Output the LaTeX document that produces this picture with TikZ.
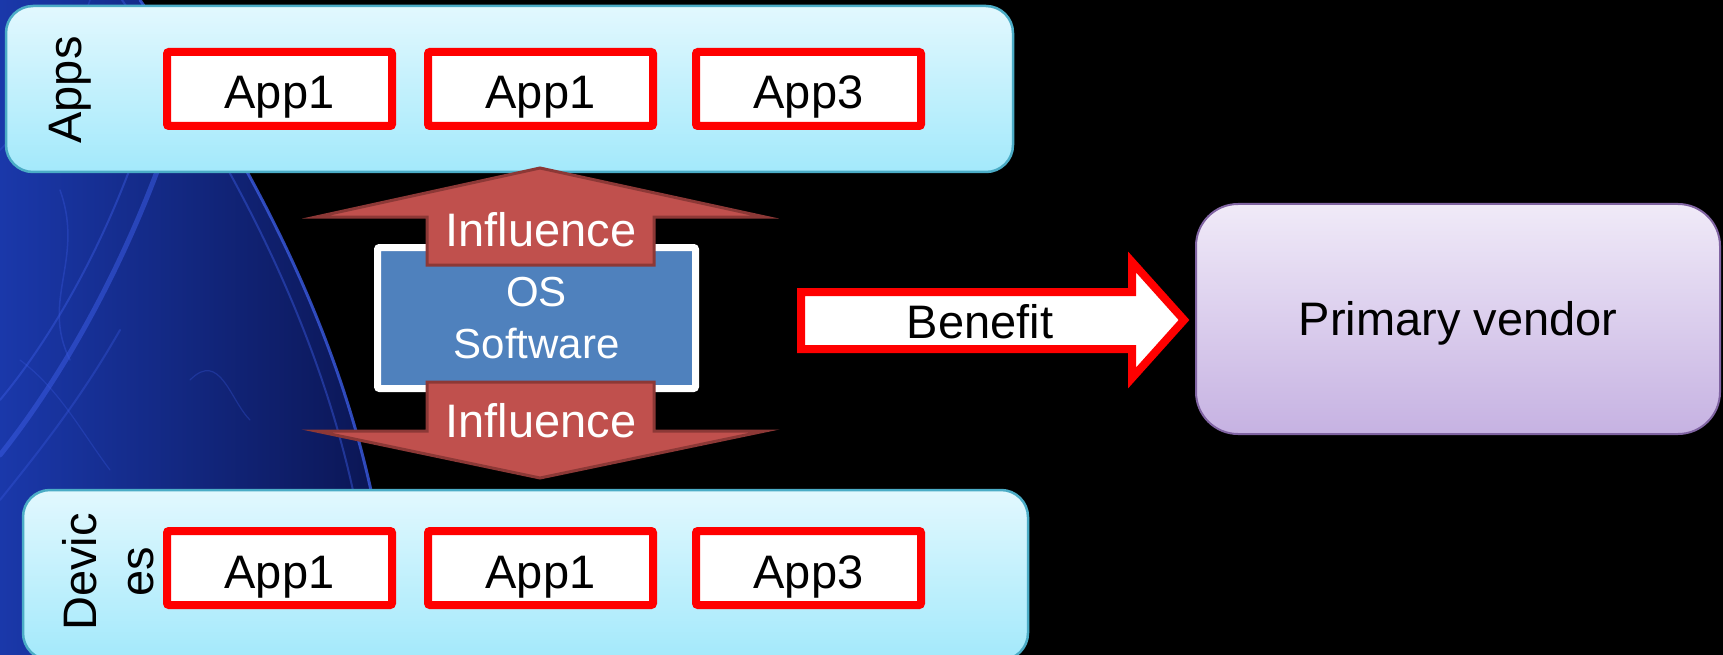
\documentclass[tikz,border=0pt]{standalone}
\usepackage{fontspec}
\setmainfont{Liberation Sans}
\definecolor{layertop}{HTML}{E2F8FE}
\definecolor{layerbot}{HTML}{A3E9FB}
\definecolor{layerline}{HTML}{4BACC6}
\definecolor{vendortop}{HTML}{F0EAF8}
\definecolor{vendorbot}{HTML}{C6B2E2}
\definecolor{vendorline}{HTML}{8064A2}
\definecolor{osfill}{HTML}{4F81BD}
\definecolor{inflfill}{HTML}{C0504D}
\definecolor{inflline}{HTML}{8C3836}
\definecolor{navy}{HTML}{0A1450}
\definecolor{navylight}{HTML}{1A38AA}
\definecolor{streak}{HTML}{3A5AE0}
\newcommand\figfont{\fontsize{47}{57}\selectfont}
\newcommand\osfont{\fontsize{42}{52}\selectfont}
\begin{document}
\begin{tikzpicture}[x=1pt,y=-1pt,
  layer/.style={draw=layerline, line width=2.5pt, rounded corners=27pt,
    top color=layertop, bottom color=layerbot, inner sep=0pt},
  appbox/.style={draw=red, line width=8pt, fill=white, rounded corners=2pt,
    minimum width=225pt, minimum height=74pt, inner sep=0pt,
    text height=40pt, text depth=0pt, font=\figfont},
  sidelabel/.style={rotate=90, align=center, font=\figfont, inner sep=0pt},
  influence/.style={draw=inflline, line width=3pt, fill=inflfill, line join=miter},
  infltext/.style={font=\figfont, text=white, anchor=base, inner sep=0pt},
  streakline/.style={draw=streak, line cap=round}
]
\useasboundingbox (0,0) rectangle (1723,655);
\clip (0,0) rectangle (1723,655);

% night sky backdrop with blue smoke on the left
\fill[black] (0,0) rectangle (1723,655);
\shade[left color=navylight, right color=navy]
  (0,0) -- (140,0) .. controls (230,130) and (330,300) .. (372,495)
  -- (395,655) -- (0,655) -- cycle;
\draw[streakline, line width=3pt, opacity=.8]
  (140,0) .. controls (230,130) and (330,300) .. (372,495);
\draw[streakline, line width=2pt, opacity=.45]
  (122,0) .. controls (212,130) and (312,300) .. (354,495);
\draw[streakline, line width=5pt, opacity=.55]
  (175,120) .. controls (130,260) and (60,380) .. (0,455);
\draw[streakline, line width=2pt, opacity=.45]
  (150,110) .. controls (110,240) and (50,340) .. (0,400);
\draw[streakline, line width=2pt, opacity=.35]
  (120,330) .. controls (80,400) and (40,450) .. (0,500);
\draw[streakline, line width=1.5pt, opacity=.35]
  (60,190) .. controls (85,260) and (40,300) .. (70,360);
\draw[streakline, line width=1.2pt, opacity=.3]
  (190,380) .. controls (220,350) and (230,400) .. (250,420);
\draw[streakline, line width=1.2pt, opacity=.3]
  (20,360) .. controls (60,390) and (80,430) .. (110,470);
\draw[streakline, line width=1.5pt, opacity=.35]
  (90,0) .. controls (70,60) and (30,120) .. (0,150);

% the two layers
\node[layer, minimum width=1007pt, minimum height=166pt] (apps) at (509.5,89) {};
\node[layer, minimum width=1005pt, minimum height=170pt] (devices) at (525.5,575) {};
\node[sidelabel] (appslbl) at (70,90) {Apps};
\node[sidelabel] (devlbl) at (108,572) {Devic\\es};

% application boxes
\node[appbox] (a1) at (279.5,89) {App1};
\node[appbox] (a2) at (540.5,89) {App1};
\node[appbox] (a3) at (808.5,89) {App3};
\node[appbox] (d1) at (279.5,568) {App1};
\node[appbox] (d2) at (540.5,568) {App1};
\node[appbox] (d3) at (808.5,568) {App3};

% operating system in the middle
\node[draw=white, line width=7pt, fill=osfill, rounded corners=2pt,
  minimum width=318pt, minimum height=141pt, inner sep=0pt,
  align=center, font=\osfont, text=white] (os) at (536.5,318) {OS\\Software};

% influence arrows towards both layers
\draw[influence] (540,168) -- (765,217) -- (654,217) -- (654,265)
  -- (427,265) -- (427,217) -- (316,217) -- cycle;
\node[infltext] (influp) at (541,246) {Influence};
\draw[influence] (427,382) -- (654,382) -- (654,431) -- (765,431)
  -- (540,478) -- (316,431) -- (427,431) -- cycle;
\node[infltext] (infldown) at (541,437) {Influence};

% primary vendor and the benefit arrow
\node[draw=vendorline, line width=2pt, rounded corners=42pt,
  top color=vendortop, bottom color=vendorbot,
  minimum width=524pt, minimum height=230pt, inner sep=0pt,
  text height=33pt, text depth=0pt, font=\figfont] (vendor) at (1458,319) {Primary vendor};
\draw[draw=red, line width=8pt, fill=white, line join=miter]
  (801,292) -- (1132,292) -- (1132,262) -- (1184,320) -- (1132,378)
  -- (1132,349) -- (801,349) -- cycle;
\node[font=\figfont, anchor=base, inner sep=0pt] (benefit) at (980,338) {Benefit};
\end{tikzpicture}
\end{document}
